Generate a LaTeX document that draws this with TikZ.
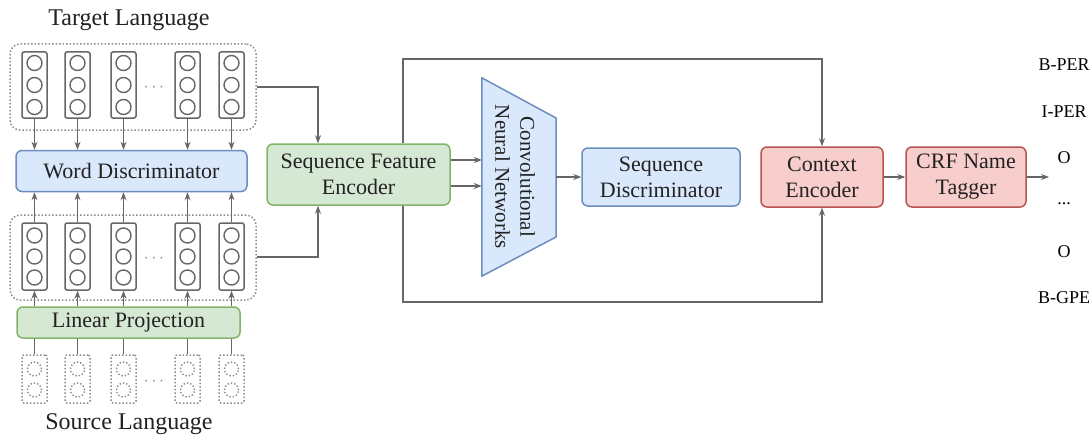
\documentclass[tikz,border=0pt]{standalone}
\usepackage{fontspec}
\setmainfont{Liberation Serif}
\usetikzlibrary{arrows.meta,shapes.geometric}
\definecolor{bluef}{HTML}{DAE8FC}
\definecolor{blued}{HTML}{6C8EBF}
\definecolor{greenf}{HTML}{D5E8D4}
\definecolor{greend}{HTML}{82B366}
\definecolor{redf}{HTML}{F8CECC}
\definecolor{redd}{HTML}{B85450}
\definecolor{linec}{HTML}{666666}
\definecolor{txtc}{HTML}{222222}
\definecolor{dotc}{HTML}{8C8C8C}
\begin{document}
\begin{tikzpicture}[x=1pt,y=-1pt,
  box/.style={draw, rounded corners=6pt, line width=1.5pt, align=center, text=txtc,
              font=\fontsize{22}{26}\selectfont, inner sep=0pt},
  bluebox/.style={box, fill=bluef, draw=blued},
  greenbox/.style={box, fill=greenf, draw=greend},
  redbox/.style={box, fill=redf, draw=redd},
  arr/.style={draw=linec, line width=1.2pt, -{Stealth[length=8pt,width=6pt]}},
  ln/.style={draw=linec, line width=1.2pt},
  col/.style={draw=linec, line width=1.5pt, rounded corners=2pt, minimum width=25pt, inner sep=0pt},
  dcol/.style={draw=dotc, dotted, line width=1.5pt, rounded corners=2pt, minimum width=25pt, minimum height=48pt, inner sep=0pt},
  cont/.style={draw=dotc, dotted, line width=1.5pt, rounded corners=10pt, inner sep=0pt},
  title/.style={text=txtc, font=\fontsize{24}{28}\selectfont, inner sep=0pt},
  lab/.style={text=black, font=\fontsize{18}{20}\selectfont, inner sep=0pt},
  dotsn/.style={text=dotc, font=\fontsize{18}{20}\selectfont, inner sep=0pt}
]
\useasboundingbox (0,0) rectangle (1091,436);

% titles
\node[title] (ttl) at (129,20) {Target Language};
\node[title] (stl) at (129,424) {Source Language};

% containers
\node[cont, minimum width=246pt, minimum height=86pt] (tc) at (133,87) {};
\node[cont, minimum width=246pt, minimum height=85pt] (sc) at (133,257.5) {};

% columns
\foreach \i/\x in {1/34.5,2/77.5,3/123.5,4/187.5,5/231.5}{
  \node[col, minimum height=66pt] (t\i) at (\x,85) {};
  \foreach \k/\dy in {a/-22,b/0,c/22}
    \draw[linec, line width=1.4pt] (\x,85+\dy) circle (7.5pt);
  \node[col, minimum height=67pt] (s\i) at (\x,256.5) {};
  \foreach \k/\dy in {a/-21,b/0,c/21}
    \draw[linec, line width=1.4pt] (\x,256.5+\dy) circle (7.5pt);
  \node[dcol] (src\i) at (\x,379) {};
  \draw[dotc, dotted, line width=1.4pt] (\x,369) circle (7pt);
  \draw[dotc, dotted, line width=1.4pt] (\x,390) circle (7pt);
}
\node[dotsn] (d1) at (154,88) {$\cdots$};
\node[dotsn] (d2) at (154,259) {$\cdots$};
\node[dotsn] (d3) at (154,382) {$\cdots$};

% boxes
\node[bluebox, minimum width=231pt, minimum height=41pt] (wd) at (131.5,171) {Word Discriminator};
\node[greenbox, minimum width=223pt, minimum height=31pt] (lp) at (128.5,322.5) {Linear Projection};
\node[greenbox, minimum width=183pt, minimum height=61pt] (sfe) at (358.5,174.5) {Sequence Feature\\Encoder};
\node[bluebox, minimum width=158pt, minimum height=58pt] (sd) at (661,177) {Sequence\\Discriminator};
\node[redbox, minimum width=122pt, minimum height=60pt] (ce) at (822,177) {Context\\Encoder};
\node[redbox, minimum width=120pt, minimum height=60pt] (crf) at (966,177) {CRF Name\\Tagger};

% CNN trapezoid
\node[minimum width=74pt, minimum height=198pt, inner sep=0pt] (cnn) at (519,177) {};
\draw[fill=bluef, draw=blued, line width=1.5pt, line join=round]
  (cnn.north west) -- (556,118) -- (556,237) -- (cnn.south west) -- cycle;
\node[rotate=-90, align=center, text=txtc, font=\fontsize{21}{25}\selectfont, inner sep=0pt] (cnnt) at (515,177) {Convolutional\\Neural Networks};

% column connectors
\foreach \i in {1,...,5}{
  \draw[arr] (t\i.south) -- (t\i.south |- wd.north);
  \draw[arr] (s\i.north) -- (s\i.north |- wd.south);
  \draw[arr] (lp.north -| s\i) -- (s\i.south);
  \draw[ln] (src\i.north) -- (src\i.north |- lp.south);
}

% containers to SFE
\coordinate (jt) at (318,87);
\coordinate (js) at (318,257);
\draw[arr] (tc.east |- jt) -- (jt) -- (jt |- sfe.north);
\draw[arr] (sc.east |- js) -- (js) -- (js |- sfe.south);

% SFE to CNN
\draw[arr] ([yshift=14.5pt]sfe.east) -- ([yshift=14.5pt]sfe.east -| cnn.west);
\draw[arr] ([yshift=-11.5pt]sfe.east) -- ([yshift=-11.5pt]sfe.east -| cnn.west);
% CNN to SD
\draw[arr] (556,177) -- (sd.west);

% loop
\coordinate (lt) at (403,59);
\coordinate (lb) at (403,302);
\draw[arr] (sfe.north -| lt) -- (lt) -- (lt -| ce.north) -- (ce.north);
\draw[arr] (sfe.south -| lb) -- (lb) -- (lb -| ce.south) -- (ce.south);

% CE -> CRF -> out
\draw[arr] (ce.east) -- (crf.west);
\coordinate (out) at (1049,177);
\draw[arr] (crf.east) -- (out);

% labels
\node[lab] (l1) at (1064,65) {B-PER};
\node[lab] (l2) at (1064,112) {I-PER};
\node[lab] (l3) at (1064,158) {O};
\node[lab] (l4) at (1064,204) {...};
\node[lab] (l5) at (1064,252) {O};
\node[lab] (l6) at (1064,298) {B-GPE};
\end{tikzpicture}
\end{document}
